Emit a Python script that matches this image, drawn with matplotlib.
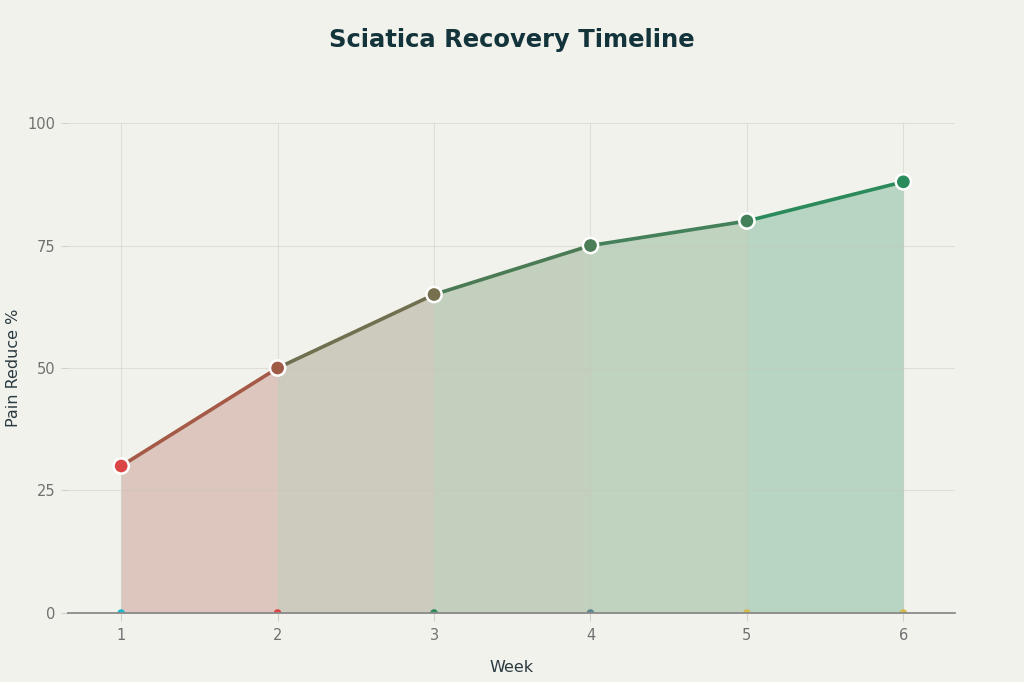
import matplotlib
matplotlib.use("Agg")
import matplotlib.pyplot as plt

# data
weeks = [1, 2, 3, 4, 5, 6]
pain_reduce = [30, 50, 65, 75, 80, 88]
point_colors = ["#db4545", "#9e5b46", "#76704f", "#4b7d57", "#42805a", "#2a8b5c"]
seg_colors = ["#a55a48", "#707050", "#4b7b55", "#44805a", "#2a8a5a"]
fill_colors = ["#dcc6bd", "#cdcbbd", "#c2d0bd", "#bfd3bf", "#b7d5c2"]
base_colors = ["#1fb8cd", "#db4545", "#2e8b57", "#5d878f", "#d2ba4c", "#d2ba4c"]
yticks = [0, 25, 50, 75, 100]

BG = "#f2f2ed"
fig = plt.figure(figsize=(10.24, 6.82), dpi=100, facecolor=BG)
ax = fig.add_axes([0.0664, 0.1012, 0.8662, 0.7184], facecolor=BG)

for i in range(len(weeks) - 1):
    xs = weeks[i:i + 2]
    ys = pain_reduce[i:i + 2]
    ax.fill_between(xs, 0, ys, color=fill_colors[i], lw=0.3, ec=fill_colors[i], zorder=1)
    ax.plot(xs, ys, color=seg_colors[i], lw=2.6, solid_capstyle="round", zorder=3)

ax.scatter(weeks, pain_reduce, s=120, c=point_colors, edgecolors="white",
           linewidths=1.8, zorder=4)
ax.scatter(weeks, [0] * len(weeks), s=30, c=base_colors, lw=0, zorder=2)

ax.set_xlim(0.66, 6.33)
ax.set_ylim(0, 100)
ax.set_xticks(weeks)
ax.set_yticks(yticks)
ax.grid(True, color="#c8c8c0", lw=0.8, alpha=0.45, zorder=2)
for s in ["top", "right", "left"]:
    ax.spines[s].set_visible(False)
ax.spines["bottom"].set_color("#8a8a8a")
ax.spines["bottom"].set_linewidth(1.3)
ax.spines["bottom"].set_zorder(5)
ax.tick_params(axis="both", colors="#d0d0cc", labelcolor="#707070", labelsize=10.5)
ax.tick_params(axis="y", length=5, width=0.8, pad=4)
ax.tick_params(axis="x", length=6, width=0.8, pad=5)

ax.set_xlabel("Week", fontsize=11.5, color="#2a3a40", labelpad=12)
ax.set_ylabel("Pain Reduce %", fontsize=11.5, color="#2a3a40", labelpad=5)
fig.text(0.5, 0.942, "Sciatica Recovery Timeline", ha="center", va="center",
         fontsize=17.5, fontweight="bold", color="#13343b")

fig.savefig("out.png", dpi=100, facecolor=BG)
